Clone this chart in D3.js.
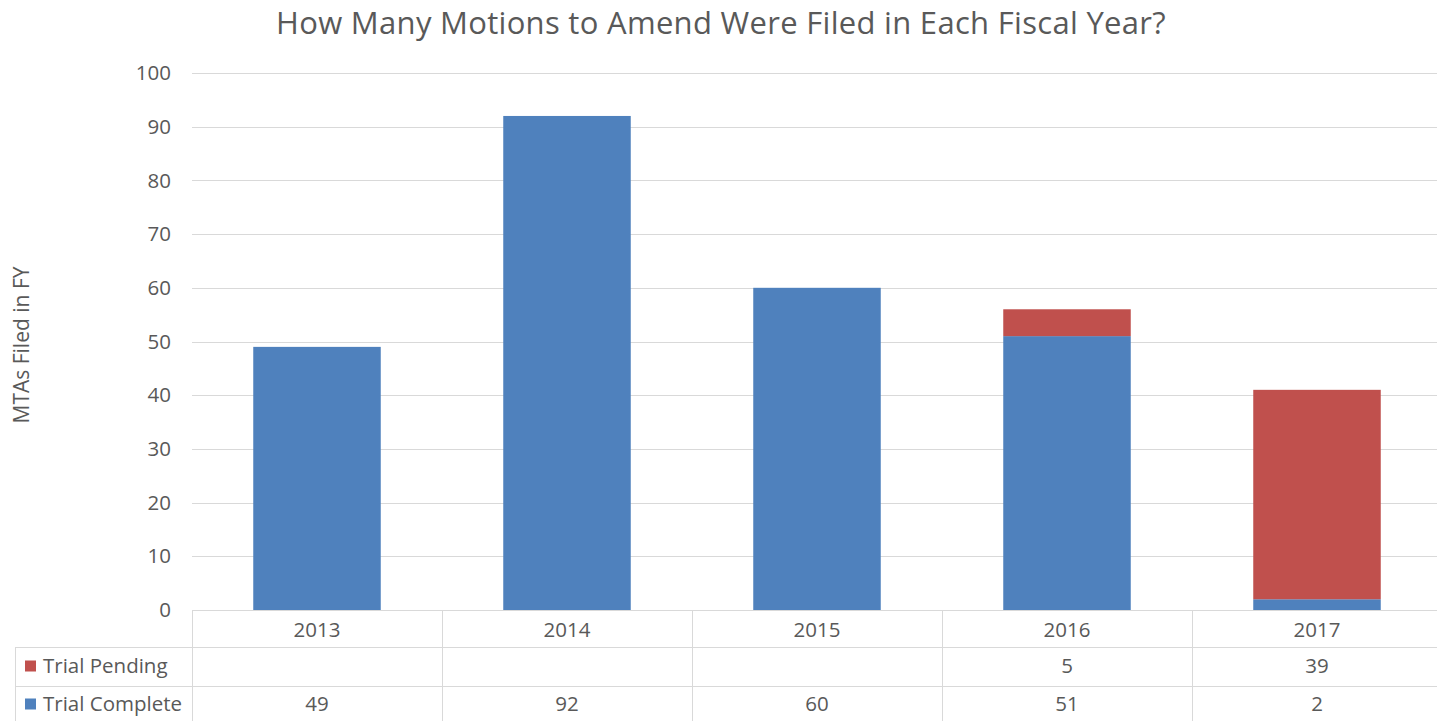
<!DOCTYPE html>
<html><head><meta charset="utf-8">
<script src="https://cdn.jsdelivr.net/npm/d3@7"></script>
<style>body{margin:0;background:#fff}svg{display:block}text{font-family:"Open Sans",sans-serif;fill:#595959}</style>
</head><body><svg id="c" width="1437" height="721"></svg>
<script>
const categories = ["2013","2014","2015","2016","2017"];
const trialComplete = [49, 92, 60, 51, 2];
const trialPending = [null, null, null, 5, 39];
const yTicks = [0,10,20,30,40,50,60,70,80,90,100];
const seriesNames = ["Trial Pending","Trial Complete"];
const colors = {"Trial Complete":"#4F81BD","Trial Pending":"#C0504D"};

(function(){
const svg = d3.select("#c");
const W=1437, pLeft=192, pRight=1442, pTop=73, pBottom=610;
const fs = "20.5px";
const x = d3.scaleBand().domain(categories).range([pLeft,pRight]).paddingInner(0.49).paddingOuter(0.245);
const xCol = d3.scaleBand().domain(categories).range([pLeft,pRight]);
const y = d3.scaleLinear().domain([0,100]).range([pBottom,pTop]);

svg.append("g").selectAll("line").data(yTicks).join("line")
  .attr("x1",pLeft).attr("x2",W).attr("y1",d=>Math.round(y(d))+0.5).attr("y2",d=>Math.round(y(d))+0.5)
  .attr("stroke","#d9d9d9").attr("stroke-width",1);

svg.append("g").selectAll("text").data(yTicks).join("text")
  .attr("x",171).attr("y",d=>y(d)).attr("dy","0.35em").attr("text-anchor","end")
  .style("font-size",fs).text(d=>d);

const stackData = categories.map((c,i)=>({cat:c,"Trial Complete":trialComplete[i]||0,"Trial Pending":trialPending[i]||0}));
const stack = d3.stack().keys(["Trial Complete","Trial Pending"])(stackData);
svg.append("g").selectAll("g").data(stack).join("g").attr("fill",d=>colors[d.key])
  .selectAll("rect").data(d=>d.filter(p=>p[1]>p[0])).join("rect")
  .attr("x",d=>x(d.data.cat)).attr("width",x.bandwidth())
  .attr("y",d=>y(d[1])).attr("height",d=>y(d[0])-y(d[1]));

const rowH=[610,647,686,725];
const g = svg.append("g").attr("stroke","#d9d9d9").attr("stroke-width",1).attr("shape-rendering","crispEdges");
g.append("line").attr("x1",pLeft).attr("x2",W).attr("y1",rowH[0]).attr("y2",rowH[0]);
g.append("line").attr("x1",15).attr("x2",W).attr("y1",rowH[1]).attr("y2",rowH[1]);
g.append("line").attr("x1",15).attr("x2",W).attr("y1",rowH[2]).attr("y2",rowH[2]);
g.append("line").attr("x1",15).attr("x2",15).attr("y1",rowH[1]).attr("y2",721);
g.selectAll(".v").data(categories).join("line").attr("class","v")
  .attr("x1",d=>Math.round(xCol(d))).attr("x2",d=>Math.round(xCol(d))).attr("y1",rowH[0]).attr("y2",721);

svg.append("g").selectAll("text").data(categories).join("text")
  .attr("x",d=>xCol(d)+xCol.bandwidth()/2).attr("y",630).attr("dy","0.35em")
  .attr("text-anchor","middle").style("font-size",fs).text(d=>d);

const rows = [{name:seriesNames[0],vals:trialPending,cy:666},{name:seriesNames[1],vals:trialComplete,cy:704}];
rows.forEach(r=>{
  const cy=r.cy;
  svg.append("rect").attr("x",25).attr("y",cy-5.5).attr("width",11).attr("height",11).attr("fill",colors[r.name]);
  svg.append("text").attr("x",43).attr("y",cy).attr("dy","0.35em").style("font-size",fs).text(r.name);
  svg.append("g").selectAll("text").data(categories).join("text")
    .attr("x",d=>xCol(d)+xCol.bandwidth()/2).attr("y",cy).attr("dy","0.35em")
    .attr("text-anchor","middle").style("font-size",fs).text((d,i)=>r.vals[i]==null?"":r.vals[i]);
});

svg.append("text").attr("x",721).attr("y",34).attr("text-anchor","middle")
  .style("font-size","31px").style("letter-spacing","0.3px").text("How Many Motions to Amend Were Filed in Each Fiscal Year?");
svg.append("text").attr("transform","translate(22,345) rotate(-90)").attr("dy","0.35em").attr("text-anchor","middle")
  .style("font-size","21px").text("MTAs Filed in FY");
})();
</script></body></html>
